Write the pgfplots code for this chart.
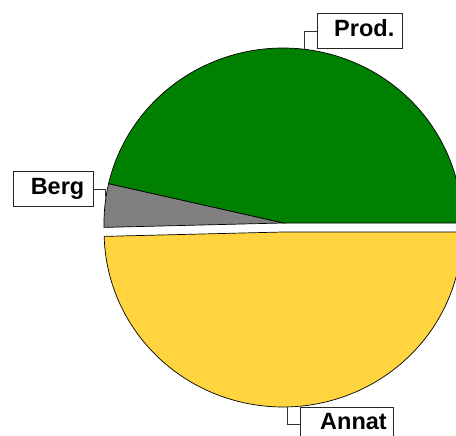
\documentclass[border=0pt]{standalone}
\usepackage{pgfplots}
\pgfplotsset{compat=1.18}
\usepackage{pgfplotstable}
\usepackage{fontspec}
\setmainfont{Liberation Sans}
\definecolor{prodgreen}{HTML}{008000}
\definecolor{berggray}{HTML}{808080}
\definecolor{annatyellow}{HTML}{FFD43F}

\pgfplotstableread{
label value
Prod. 46.4
Berg 4.0
Annat 49.6
}\piedata
\pgfplotstablegetelem{0}{value}\of\piedata \let\vProd\pgfplotsretval
\pgfplotstablegetelem{1}{value}\of\piedata \let\vBerg\pgfplotsretval
\pgfplotstablegetelem{2}{value}\of\piedata \let\vAnnat\pgfplotsretval
\pgfmathsetmacro{\aA}{0}
\pgfmathsetmacro{\aB}{\vProd*3.6}
\pgfmathsetmacro{\aC}{(\vProd+\vBerg)*3.6}
\pgfmathsetmacro{\aD}{(\vProd+\vBerg+\vAnnat)*3.6}
\pgfmathsetmacro{\aMid}{(\aC+\aD)/2}
\pgfmathsetmacro{\ex}{283+9*cos(\aMid)}
\pgfmathsetmacro{\ey}{223-9*sin(\aMid)}

\begin{document}
\begin{tikzpicture}
\begin{axis}[scale only axis, width=456pt, height=436pt,
  xmin=0, xmax=456, ymin=0, ymax=436, y dir=reverse,
  hide axis, clip=true]
\addplot[fill=prodgreen, draw=black, line width=0.7pt, domain=\aA:\aB, samples=150]
  ({283+179*cos(x)}, {223-175*sin(x)}) -- (axis cs:283,223) -- cycle;
\addplot[fill=berggray, draw=black, line width=0.7pt, domain=\aB:\aC, samples=30]
  ({283+179*cos(x)}, {223-175*sin(x)}) -- (axis cs:283,223) -- cycle;
\addplot[fill=annatyellow, draw=black, line width=0.7pt, domain=\aC:\aD, samples=150]
  ({\ex+179*cos(x)}, {\ey-175*sin(x)}) -- (axis cs:\ex,\ey) -- cycle;
% leaders
\draw[black!80, line width=0.7pt] (axis cs:93,189) -- (axis cs:105,189) -- (axis cs:105,197);
\draw[black!80, line width=0.7pt] (axis cs:317,31) -- (axis cs:304,31) -- (axis cs:304,49);
\draw[black!80, line width=0.7pt] (axis cs:300,424) -- (axis cs:287,424) -- (axis cs:287,407);
% label boxes
\draw[black!85, fill=white, line width=0.8pt] (axis cs:13,171) rectangle (axis cs:93,206);
\draw[black!85, fill=white, line width=0.8pt] (axis cs:317,13) rectangle (axis cs:402,48);
\draw[black!85, fill=white, line width=0.8pt] (axis cs:300,407) rectangle (axis cs:393,445);
\node[anchor=base east, inner sep=0pt, font=\fontsize{23.5}{28}\selectfont\bfseries] at (axis cs:84.5,195) {Berg};
\node[anchor=base east, inner sep=0pt, font=\fontsize{23.5}{28}\selectfont\bfseries] at (axis cs:394.5,37) {Prod.};
\node[anchor=base east, inner sep=0pt, font=\fontsize{23.5}{28}\selectfont\bfseries] at (axis cs:387,429) {Annat};
\end{axis}
\pgfresetboundingbox
\path (current axis.south west) rectangle (current axis.north east);
\end{tikzpicture}
\end{document}
